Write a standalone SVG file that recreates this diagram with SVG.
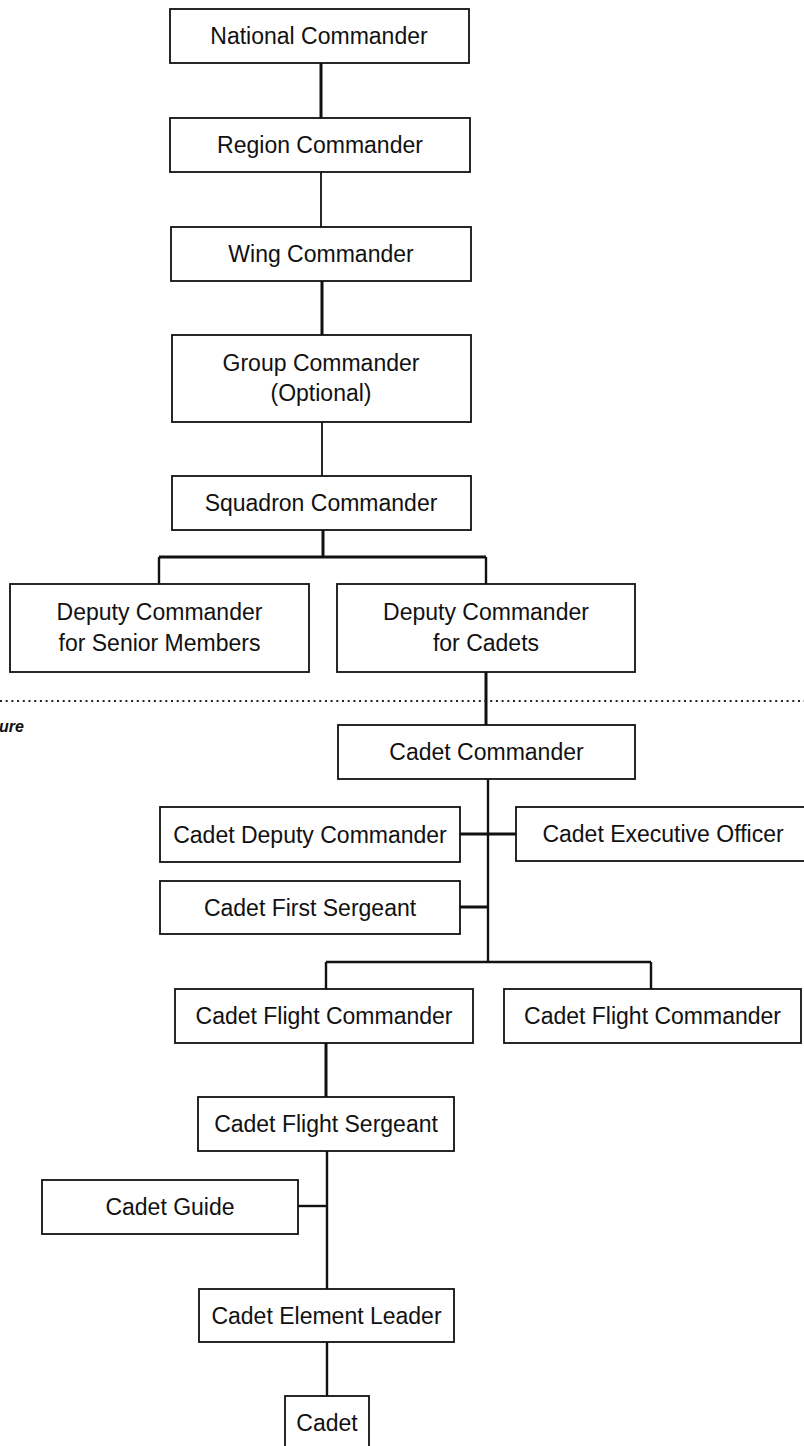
<svg xmlns="http://www.w3.org/2000/svg" width="804" height="1446" viewBox="0 0 804 1446">
<style>
.box{fill:#fff;stroke:#111;stroke-width:1.8}
.t{font-family:"Liberation Sans",Arial,sans-serif;font-size:23px;fill:#111;text-anchor:middle}
.c{stroke:#111;fill:none}
.k{stroke-width:3}
.m{stroke-width:2.4}
.n{stroke-width:1.8}
</style>
<rect width="804" height="1446" fill="#fff"/>
<line x1="0" y1="701" x2="804" y2="701" stroke="#222" stroke-width="2" stroke-dasharray="2 3.7"/>
<text x="-1" y="732" style="font-family:'Liberation Sans',Arial,sans-serif;font-size:16px;font-weight:bold;font-style:italic" fill="#111">ure</text>
<g id="connectors">
<line class="c k" x1="321" y1="63" x2="321" y2="118"/>
<line class="c n" x1="321" y1="172" x2="321" y2="227"/>
<line class="c k" x1="322" y1="281" x2="322" y2="335"/>
<line class="c n" x1="322" y1="422" x2="322" y2="476"/>
<line class="c k" x1="323" y1="530" x2="323" y2="557"/>
<line class="c k" x1="159" y1="557" x2="486" y2="557"/>
<line class="c m" x1="159" y1="557" x2="159" y2="584"/>
<line class="c m" x1="486" y1="557" x2="486" y2="584"/>
<line class="c k" x1="486" y1="672" x2="486" y2="725"/>
<line class="c m" x1="488" y1="779" x2="488" y2="962"/>
<line class="c k" x1="460" y1="834" x2="516" y2="834" stroke-width="3.5"/>
<line class="c k" x1="460" y1="907" x2="488" y2="907" stroke-width="3.5"/>
<line class="c m" x1="326" y1="962" x2="651" y2="962"/>
<line class="c m" x1="326" y1="962" x2="326" y2="989"/>
<line class="c m" x1="651" y1="962" x2="651" y2="989"/>
<line class="c k" x1="326" y1="1043" x2="326" y2="1097"/>
<line class="c m" x1="327" y1="1151" x2="327" y2="1289"/>
<line class="c m" x1="298" y1="1206" x2="327" y2="1206"/>
<line class="c m" x1="327" y1="1342" x2="327" y2="1396"/>
</g>
<g id="national"><rect class="box" x="170" y="9" width="299" height="54"/><text class="t" x="319" y="44">National Commander</text></g>
<g id="region"><rect class="box" x="170" y="118" width="300" height="54"/><text class="t" x="320" y="153">Region Commander</text></g>
<g id="wing"><rect class="box" x="171" y="227" width="300" height="54"/><text class="t" x="321" y="262">Wing Commander</text></g>
<g id="group"><rect class="box" x="172" y="335" width="299" height="87"/><text class="t" x="321" y="371">Group Commander</text><text class="t" x="321" y="401">(Optional)</text></g>
<g id="squadron"><rect class="box" x="172" y="476" width="299" height="54"/><text class="t" x="321" y="511">Squadron Commander</text></g>
<g id="dep-senior"><rect class="box" x="10" y="584" width="299" height="88"/><text class="t" x="159.5" y="620">Deputy Commander</text><text class="t" x="159.5" y="651">for Senior Members</text></g>
<g id="dep-cadets"><rect class="box" x="337" y="584" width="298" height="88"/><text class="t" x="486" y="620">Deputy Commander</text><text class="t" x="486" y="651">for Cadets</text></g>
<g id="cadet-commander"><rect class="box" x="338" y="725" width="297" height="54"/><text class="t" x="486.5" y="760">Cadet Commander</text></g>
<g id="cadet-deputy"><rect class="box" x="160" y="807" width="300" height="55"/><text class="t" x="310" y="842.5">Cadet Deputy Commander</text></g>
<g id="cadet-exec"><rect class="box" x="516" y="807" width="300" height="54"/><text class="t" x="663" y="842">Cadet Executive Officer</text></g>
<g id="first-sergeant"><rect class="box" x="160" y="881" width="300" height="53"/><text class="t" x="310" y="915.5">Cadet First Sergeant</text></g>
<g id="flight-cmd-1"><rect class="box" x="175" y="989" width="298" height="54"/><text class="t" x="324" y="1024">Cadet Flight Commander</text></g>
<g id="flight-cmd-2"><rect class="box" x="504" y="989" width="297" height="54"/><text class="t" x="652.5" y="1024">Cadet Flight Commander</text></g>
<g id="flight-sergeant"><rect class="box" x="198" y="1097" width="256" height="54"/><text class="t" x="326" y="1132">Cadet Flight Sergeant</text></g>
<g id="guide"><rect class="box" x="42" y="1180" width="256" height="54"/><text class="t" x="170" y="1215">Cadet Guide</text></g>
<g id="element-leader"><rect class="box" x="199" y="1289" width="255" height="53"/><text class="t" x="326.5" y="1323.5">Cadet Element Leader</text></g>
<g id="cadet"><rect class="box" x="285" y="1396" width="84" height="60"/><text class="t" x="327" y="1431">Cadet</text></g>
</svg>
